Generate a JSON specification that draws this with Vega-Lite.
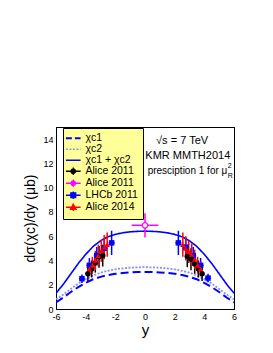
{
  "$schema": "https://vega.github.io/schema/vega-lite/v6.json",
  "width": 178,
  "height": 182,
  "autosize": {"type": "none"},
  "padding": {"left": 56, "top": 127, "right": 39, "bottom": 44},
  "background": "white",
  "config": {
    "font": "Liberation Sans",
    "view": {"stroke": "black", "strokeWidth": 1},
    "axis": {"grid": false, "domainColor": "black", "tickColor": "black", "labelColor": "black", "titleColor": "black", "labelFont": "Liberation Sans", "titleFont": "Liberation Sans", "labelFontSize": 9, "titleFontWeight": "normal", "tickSize": 0}
  },
  "datasets": {
    "curves": [
      {"series": "χc1", "x": -6, "v": 0.55}, {"series": "χc1", "x": -5.5, "v": 0.95}, {"series": "χc1", "x": -5, "v": 1.4}, {"series": "χc1", "x": -4.5, "v": 1.8}, {"series": "χc1", "x": -4, "v": 2.15}, {"series": "χc1", "x": -3.5, "v": 2.45}, {"series": "χc1", "x": -3, "v": 2.65}, {"series": "χc1", "x": -2.5, "v": 2.8}, {"series": "χc1", "x": -2, "v": 2.9}, {"series": "χc1", "x": -1.5, "v": 2.97}, {"series": "χc1", "x": -1, "v": 3.01}, {"series": "χc1", "x": -0.5, "v": 3.04}, {"series": "χc1", "x": 0, "v": 3.05},
      {"series": "χc1", "x": 0.5, "v": 3.04}, {"series": "χc1", "x": 1, "v": 3.01}, {"series": "χc1", "x": 1.5, "v": 2.97}, {"series": "χc1", "x": 2, "v": 2.9}, {"series": "χc1", "x": 2.5, "v": 2.8}, {"series": "χc1", "x": 3, "v": 2.65}, {"series": "χc1", "x": 3.5, "v": 2.45}, {"series": "χc1", "x": 4, "v": 2.15}, {"series": "χc1", "x": 4.5, "v": 1.8}, {"series": "χc1", "x": 5, "v": 1.4}, {"series": "χc1", "x": 5.5, "v": 0.95}, {"series": "χc1", "x": 6, "v": 0.55},
      {"series": "χc2", "x": -6, "v": 0.8}, {"series": "χc2", "x": -5.5, "v": 1.2}, {"series": "χc2", "x": -5, "v": 1.65}, {"series": "χc2", "x": -4.5, "v": 2.1}, {"series": "χc2", "x": -4, "v": 2.45}, {"series": "χc2", "x": -3.5, "v": 2.75}, {"series": "χc2", "x": -3, "v": 3.0}, {"series": "χc2", "x": -2.5, "v": 3.15}, {"series": "χc2", "x": -2, "v": 3.27}, {"series": "χc2", "x": -1.5, "v": 3.35}, {"series": "χc2", "x": -1, "v": 3.4}, {"series": "χc2", "x": -0.5, "v": 3.43}, {"series": "χc2", "x": 0, "v": 3.45},
      {"series": "χc2", "x": 0.5, "v": 3.43}, {"series": "χc2", "x": 1, "v": 3.4}, {"series": "χc2", "x": 1.5, "v": 3.35}, {"series": "χc2", "x": 2, "v": 3.27}, {"series": "χc2", "x": 2.5, "v": 3.15}, {"series": "χc2", "x": 3, "v": 3.0}, {"series": "χc2", "x": 3.5, "v": 2.75}, {"series": "χc2", "x": 4, "v": 2.45}, {"series": "χc2", "x": 4.5, "v": 2.1}, {"series": "χc2", "x": 5, "v": 1.65}, {"series": "χc2", "x": 5.5, "v": 1.2}, {"series": "χc2", "x": 6, "v": 0.8},
      {"series": "χc1 + χc2", "x": -6, "v": 1.3}, {"series": "χc1 + χc2", "x": -5.5, "v": 2.05}, {"series": "χc1 + χc2", "x": -5, "v": 2.9}, {"series": "χc1 + χc2", "x": -4.5, "v": 3.75}, {"series": "χc1 + χc2", "x": -4, "v": 4.5}, {"series": "χc1 + χc2", "x": -3.5, "v": 5.15}, {"series": "χc1 + χc2", "x": -3, "v": 5.62}, {"series": "χc1 + χc2", "x": -2.5, "v": 5.95}, {"series": "χc1 + χc2", "x": -2, "v": 6.15}, {"series": "χc1 + χc2", "x": -1.5, "v": 6.28}, {"series": "χc1 + χc2", "x": -1, "v": 6.36}, {"series": "χc1 + χc2", "x": -0.5, "v": 6.4}, {"series": "χc1 + χc2", "x": 0, "v": 6.42},
      {"series": "χc1 + χc2", "x": 0.5, "v": 6.4}, {"series": "χc1 + χc2", "x": 1, "v": 6.36}, {"series": "χc1 + χc2", "x": 1.5, "v": 6.28}, {"series": "χc1 + χc2", "x": 2, "v": 6.15}, {"series": "χc1 + χc2", "x": 2.5, "v": 5.95}, {"series": "χc1 + χc2", "x": 3, "v": 5.62}, {"series": "χc1 + χc2", "x": 3.5, "v": 5.15}, {"series": "χc1 + χc2", "x": 4, "v": 4.5}, {"series": "χc1 + χc2", "x": 4.5, "v": 3.75}, {"series": "χc1 + χc2", "x": 5, "v": 2.9}, {"series": "χc1 + χc2", "x": 5.5, "v": 2.05}, {"series": "χc1 + χc2", "x": 6, "v": 1.3}
    ],
    "pts": [
      {"series": "LHCb 2011", "x": -4.25, "v": 2.5, "lo": 2.15, "hi": 2.85, "xlo": -4.45, "xhi": -4.05},
      {"series": "LHCb 2011", "x": -3.75, "v": 3.6, "lo": 3.0, "hi": 4.2, "xlo": -3.95, "xhi": -3.55},
      {"series": "LHCb 2011", "x": -3.25, "v": 4.4, "lo": 3.7, "hi": 5.1, "xlo": -3.45, "xhi": -3.05},
      {"series": "LHCb 2011", "x": -2.75, "v": 5.0, "lo": 4.2, "hi": 5.8, "xlo": -2.95, "xhi": -2.55},
      {"series": "LHCb 2011", "x": -2.25, "v": 5.45, "lo": 4.45, "hi": 6.45, "xlo": -2.45, "xhi": -2.05},
      {"series": "LHCb 2011", "x": 2.25, "v": 5.45, "lo": 4.45, "hi": 6.45, "xlo": 2.05, "xhi": 2.45},
      {"series": "LHCb 2011", "x": 2.75, "v": 5.1, "lo": 4.3, "hi": 5.9, "xlo": 2.55, "xhi": 2.95},
      {"series": "LHCb 2011", "x": 3.25, "v": 4.4, "lo": 3.7, "hi": 5.1, "xlo": 3.05, "xhi": 3.45},
      {"series": "LHCb 2011", "x": 3.75, "v": 3.6, "lo": 3.0, "hi": 4.2, "xlo": 3.55, "xhi": 3.95},
      {"series": "LHCb 2011", "x": 4.25, "v": 2.55, "lo": 2.2, "hi": 2.9, "xlo": 4.05, "xhi": 4.45},
      {"series": "Alice 2011", "x": -3.85, "v": 2.9, "lo": 2.3, "hi": 3.5, "xlo": -3.9, "xhi": -3.8},
      {"series": "Alice 2011", "x": -3.6, "v": 3.3, "lo": 2.6, "hi": 4.0, "xlo": -3.65, "xhi": -3.55},
      {"series": "Alice 2011", "x": -3.35, "v": 3.8, "lo": 3.0, "hi": 4.6, "xlo": -3.4, "xhi": -3.3},
      {"series": "Alice 2011", "x": -3.1, "v": 4.3, "lo": 3.4, "hi": 5.2, "xlo": -3.15, "xhi": -3.05},
      {"series": "Alice 2011", "x": -2.85, "v": 4.4, "lo": 3.5, "hi": 5.3, "xlo": -2.9, "xhi": -2.8},
      {"series": "Alice 2011", "x": 2.85, "v": 4.35, "lo": 3.45, "hi": 5.25, "xlo": 2.8, "xhi": 2.9},
      {"series": "Alice 2011", "x": 3.1, "v": 4.1, "lo": 3.2, "hi": 5.0, "xlo": 3.05, "xhi": 3.15},
      {"series": "Alice 2011", "x": 3.35, "v": 3.7, "lo": 2.9, "hi": 4.5, "xlo": 3.3, "xhi": 3.4},
      {"series": "Alice 2011", "x": 3.6, "v": 3.3, "lo": 2.6, "hi": 4.0, "xlo": 3.55, "xhi": 3.65},
      {"series": "Alice 2011", "x": 3.85, "v": 2.9, "lo": 2.3, "hi": 3.5, "xlo": 3.8, "xhi": 3.9},
      {"series": "Alice 2014", "x": -3.75, "v": 3.3, "lo": 2.7, "hi": 3.9, "xlo": -3.85, "xhi": -3.65},
      {"series": "Alice 2014", "x": -3.55, "v": 3.6, "lo": 2.9, "hi": 4.3, "xlo": -3.65, "xhi": -3.45},
      {"series": "Alice 2014", "x": -3.35, "v": 4.0, "lo": 3.2, "hi": 4.8, "xlo": -3.45, "xhi": -3.25},
      {"series": "Alice 2014", "x": -3.15, "v": 4.4, "lo": 3.5, "hi": 5.3, "xlo": -3.25, "xhi": -3.05},
      {"series": "Alice 2014", "x": -2.95, "v": 4.8, "lo": 3.9, "hi": 5.7, "xlo": -3.05, "xhi": -2.85},
      {"series": "Alice 2014", "x": -2.75, "v": 5.1, "lo": 4.1, "hi": 6.1, "xlo": -2.85, "xhi": -2.65},
      {"series": "Alice 2014", "x": -2.55, "v": 5.3, "lo": 4.3, "hi": 6.3, "xlo": -2.65, "xhi": -2.45},
      {"series": "Alice 2014", "x": 2.55, "v": 5.3, "lo": 4.3, "hi": 6.3, "xlo": 2.45, "xhi": 2.65},
      {"series": "Alice 2014", "x": 2.75, "v": 5.0, "lo": 4.0, "hi": 6.0, "xlo": 2.65, "xhi": 2.85},
      {"series": "Alice 2014", "x": 2.95, "v": 4.7, "lo": 3.8, "hi": 5.6, "xlo": 2.85, "xhi": 3.05},
      {"series": "Alice 2014", "x": 3.15, "v": 4.5, "lo": 3.6, "hi": 5.4, "xlo": 3.05, "xhi": 3.25},
      {"series": "Alice 2014", "x": 3.35, "v": 4.1, "lo": 3.3, "hi": 4.9, "xlo": 3.25, "xhi": 3.45},
      {"series": "Alice 2014", "x": 3.55, "v": 3.6, "lo": 2.9, "hi": 4.3, "xlo": 3.45, "xhi": 3.65},
      {"series": "Alice 2014", "x": 3.75, "v": 3.3, "lo": 2.7, "hi": 3.9, "xlo": 3.65, "xhi": 3.85},
      {"series": "Alice 2011 m", "x": 0, "v": 6.9, "lo": 5.9, "hi": 7.9, "xlo": -0.9, "xhi": 0.9}
    ]
  },
  "layer": [
    {
      "data": {"name": "curves"},
      "mark": {"type": "line", "clip": true},
      "encoding": {
        "x": {"field": "x", "type": "quantitative", "scale": {"domain": [-6, 6], "nice": false, "zero": false},
          "axis": {"orient": "bottom", "values": [-6,-5.5,-5,-4.5,-4,-3.5,-3,-2.5,-2,-1.5,-1,-0.5,0,0.5,1,1.5,2,2.5,3,3.5,4,4.5,5,5.5,6],
            "labelExpr": "datum.value % 2 == 0 ? '' + datum.value : ''", "labelPadding": 3, "labelFlush": false, "labelOverlap": false,
            "title": "y", "titleFontSize": 15, "titleX": 89, "titleY": 20, "titleBaseline": "middle", "titleAlign": "center",
            "encode": {"ticks": {"update": {"y2": {"signal": "datum.value % 2 == 0 ? -5 : -2.5"}}}}}},
        "y": {"field": "v", "type": "quantitative", "scale": {"domain": [0, 15], "nice": false, "zero": false},
          "axis": {"orient": "left", "values": [0,0.5,1,1.5,2,2.5,3,3.5,4,4.5,5,5.5,6,6.5,7,7.5,8,8.5,9,9.5,10,10.5,11,11.5,12,12.5,13,13.5,14,14.5,15],
            "labelExpr": "datum.value % 2 == 0 ? '' + datum.value : ''", "labelPadding": 3, "labelFlush": false, "labelOverlap": false,
            "title": "dσ(χc)/dy (μb)", "titleFontSize": 14, "titleX": -26, "titleY": 91, "titleAngle": 270, "titleBaseline": "middle", "titleAlign": "center",
            "encode": {"ticks": {"update": {"x2": {"signal": "datum.value % 2 == 0 ? 5 : 2.5"}}}}}},
        "color": {"field": "series", "type": "nominal",
          "scale": {"domain": ["χc1", "χc2", "χc1 + χc2", "Alice 2011", "Alice 2011 m", "LHCb 2011", "Alice 2014"],
                    "range": ["#0000ff", "#8c8cff", "#0000ff", "#000000", "#ff00ff", "#0000ff", "#ff0000"]},
          "legend": {"orient": "none", "legendX": 7, "legendY": 1, "title": null, "fillColor": "#ffff99", "strokeColor": "black",
            "padding": 5, "labelFontSize": 10.5, "labelFont": "Liberation Sans", "labelColor": "black", "rowPadding": -3, "symbolSize": 49, "labelOffset": 7,
            "labelExpr": "datum.value == 'Alice 2011 m' ? 'Alice 2011' : datum.label",
            "encode": {"symbols": {"update": {
              "shape": {"signal": "datum.value == 'Alice 2011' ? 'M-2.1,0L2.1,0M0,-1.1L0,1.1M0.64,0A0.64,0.64,0,1,1,-0.64,0A0.64,0.64,0,1,1,0.64,0Z' : datum.value == 'Alice 2011 m' ? 'M-2.1,0L-0.64,0M0.64,0L2.1,0M0,-1.1L0,-0.64M0,0.64L0,1.1M0.64,0A0.64,0.64,0,1,1,-0.64,0A0.64,0.64,0,1,1,0.64,0Z' : datum.value == 'LHCb 2011' ? 'M-2.1,0L2.1,0M0,-1.1L0,1.1M-0.7,-0.7L0.7,-0.7L0.7,0.7L-0.7,0.7Z' : datum.value == 'Alice 2014' ? 'M-2.1,0L2.1,0M0,-1.1L0,1.1M0,-0.85L0.8,0.57L-0.8,0.57Z' : 'M-2.1,0L2.1,0'"},
              "strokeDash": {"signal": "datum.value == 'χc1' ? [6,3] : datum.value == 'χc2' ? [2,1.5] : [1,0]"},
              "size": {"value": 49},
              "stroke": {"signal": "scale('color', datum.value)"},
              "fill": {"signal": "datum.value == 'Alice 2011 m' ? 'white' : scale('color', datum.value)"},
              "strokeWidth": {"signal": "datum.value == 'χc1' ? 2 : 1.3"},
              "opacity": {"value": 1}, "fillOpacity": {"value": 1}, "strokeOpacity": {"value": 1}
            }}}}},
        "strokeDash": {"field": "series", "type": "nominal",
          "scale": {"domain": ["χc1", "χc2", "χc1 + χc2"], "range": [[8, 4], [2, 1.5], [1, 0]]}, "legend": null},
        "size": {"field": "series", "type": "nominal",
          "scale": {"domain": ["χc1", "χc2", "χc1 + χc2"], "range": [2, 1.6, 1.5]}, "legend": null}
      }
    },
    {
      "data": {"name": "pts"},
      "mark": {"type": "rule", "strokeWidth": 1.5},
      "encoding": {
        "x": {"field": "x", "type": "quantitative",
          "axis": {"orient": "top", "values": [-6,-5.5,-5,-4.5,-4,-3.5,-3,-2.5,-2,-1.5,-1,-0.5,0,0.5,1,1.5,2,2.5,3,3.5,4,4.5,5,5.5,6], "labels": false, "title": null,
            "encode": {"ticks": {"update": {"y2": {"signal": "datum.value % 2 == 0 ? 5 : 2.5"}}}}}},
        "y": {"field": "lo", "type": "quantitative",
          "axis": {"orient": "right", "values": [0,0.5,1,1.5,2,2.5,3,3.5,4,4.5,5,5.5,6,6.5,7,7.5,8,8.5,9,9.5,10,10.5,11,11.5,12,12.5,13,13.5,14,14.5,15], "labels": false, "title": null,
            "encode": {"ticks": {"update": {"x2": {"signal": "datum.value % 2 == 0 ? -5 : -2.5"}}}}}},
        "y2": {"field": "hi"},
        "color": {"field": "series", "type": "nominal"}
      }
    },
    {
      "data": {"name": "pts"},
      "mark": {"type": "rule", "strokeWidth": 1.5},
      "encoding": {
        "x": {"field": "xlo", "type": "quantitative", "axis": null},
        "x2": {"field": "xhi"},
        "y": {"field": "v", "type": "quantitative", "axis": null},
        "color": {"field": "series", "type": "nominal"}
      }
    },
    {
      "data": {"name": "pts"},
      "transform": [{"filter": "datum.series != 'Alice 2011 m'"}],
      "mark": {"type": "point", "filled": true, "opacity": 1},
      "encoding": {
        "x": {"field": "x", "type": "quantitative", "axis": null},
        "y": {"field": "v", "type": "quantitative", "axis": null},
        "color": {"field": "series", "type": "nominal"},
        "shape": {"field": "series", "type": "nominal",
          "scale": {"domain": ["Alice 2011", "LHCb 2011", "Alice 2014"], "range": ["circle", "square", "triangle-up"]}, "legend": null},
        "size": {"value": 30}
      }
    },
    {
      "data": {"name": "pts"},
      "transform": [{"filter": "datum.series == 'Alice 2011 m'"}],
      "mark": {"type": "point", "shape": "circle", "fill": "white", "fillOpacity": 1, "stroke": "#ff00ff", "strokeWidth": 1.2, "size": 30, "opacity": 1},
      "encoding": {
        "x": {"field": "x", "type": "quantitative", "axis": null},
        "y": {"field": "v", "type": "quantitative", "axis": null}
      }
    },
    {
      "data": {"values": [{"label": "√s = 7 TeV"}]},
      "mark": {"type": "text", "fontSize": 11, "align": "center", "baseline": "middle", "font": "Liberation Sans"},
      "encoding": {
        "x": {"datum": 2.5, "type": "quantitative", "axis": null},
        "y": {"datum": 13.85, "type": "quantitative", "axis": null},
        "text": {"field": "label"}
      }
    },
    {
      "data": {"values": [{"label": "KMR MMTH2014"}]},
      "mark": {"type": "text", "fontSize": 11, "align": "right", "baseline": "middle", "font": "Liberation Sans"},
      "encoding": {
        "x": {"datum": 5.75, "type": "quantitative", "axis": null},
        "y": {"datum": 12.6, "type": "quantitative", "axis": null},
        "text": {"field": "label"}
      }
    },
    {
      "data": {"values": [{"label": "presciption 1 for μ"}]},
      "mark": {"type": "text", "fontSize": 10, "align": "right", "baseline": "middle", "font": "Liberation Sans"},
      "encoding": {
        "x": {"datum": 5.55, "type": "quantitative", "axis": null},
        "y": {"datum": 11.35, "type": "quantitative", "axis": null},
        "text": {"field": "label"}
      }
    },
    {
      "data": {"values": [{"label": "2"}]},
      "mark": {"type": "text", "fontSize": 7, "align": "left", "baseline": "middle", "font": "Liberation Sans"},
      "encoding": {
        "x": {"datum": 5.58, "type": "quantitative", "axis": null},
        "y": {"datum": 11.75, "type": "quantitative", "axis": null},
        "text": {"field": "label"}
      }
    },
    {
      "data": {"values": [{"label": "R"}]},
      "mark": {"type": "text", "fontSize": 7, "align": "left", "baseline": "middle", "font": "Liberation Sans"},
      "encoding": {
        "x": {"datum": 5.58, "type": "quantitative", "axis": null},
        "y": {"datum": 10.95, "type": "quantitative", "axis": null},
        "text": {"field": "label"}
      }
    }
  ],
  "resolve": {"axis": {"x": "independent", "y": "independent"}}
}
